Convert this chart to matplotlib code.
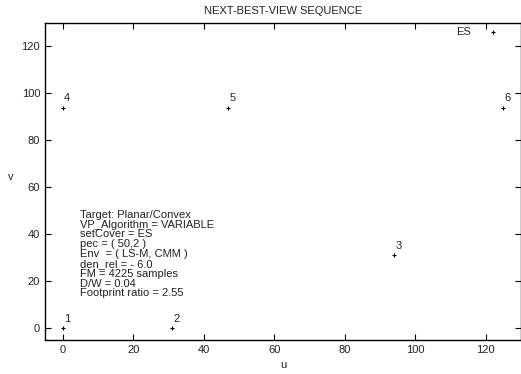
import matplotlib
matplotlib.use('Agg')
import matplotlib.pyplot as plt

plt.rcParams['font.family'] = ['Liberation Sans', 'DejaVu Sans']
plt.rcParams['font.size'] = 8

# viewpoint sequence (u, v)
labels = ['1', '2', '3', '4', '5', '6']
u_vals = [0, 31, 94, 0, 47, 125]
v_vals = [0, 0, 31, 94, 94, 94]
es_u = 122
es_v = 126

info_lines = [
    'Target: Planar/Convex',
    'VP_Algorithm = VARIABLE',
    'setCover = ES',
    'pec = ( 50,2 )',
    'Env  = ( LS-M, CMM )',
    'den_rel = - 6.0',
    'FM = 4225 samples',
    'D/W = 0.04',
    'Footprint ratio = 2.55',
]

fig = plt.figure(figsize=(5.21, 3.74), dpi=100)
ax = fig.add_axes([45 / 521, 34 / 374, 476 / 521, 317 / 374])

ax.plot(u_vals, v_vals, '+', color='black', markersize=3.5, markeredgewidth=0.8)
ax.plot([es_u], [es_v], '+', color='black', markersize=3.5, markeredgewidth=0.8)

for lab, u, v in zip(labels, u_vals, v_vals):
    ax.annotate(lab, (u, v), xytext=(1, 3), textcoords='offset points',
                ha='left', va='bottom', color='#222222')
ax.annotate('ES', (es_u, es_v), xytext=(-16, 0), textcoords='offset points',
            ha='right', va='center', color='#222222')

ax.text(5, 50.5, '\n'.join(info_lines), ha='left', va='top',
        linespacing=0.98, color='#222222')

ax.set_xlim(-5, 130)
ax.set_ylim(-5, 130)
ax.set_xticks(range(0, 121, 20))
ax.set_yticks(range(0, 121, 20))
ax.tick_params(direction='in', top=True, right=True, length=4, width=0.8,
               labelsize=8, labelcolor='#222222')
for s in ax.spines.values():
    s.set_linewidth(1.0)

ax.set_xlabel('u', color='#222222')
ax.set_ylabel('v', rotation=0, labelpad=8, color='#222222')
fig.text(283 / 521, 1 - 11 / 374, 'NEXT-BEST-VIEW SEQUENCE', ha='center',
         va='center', color='#222222')

fig.savefig('out.png', dpi=100)
